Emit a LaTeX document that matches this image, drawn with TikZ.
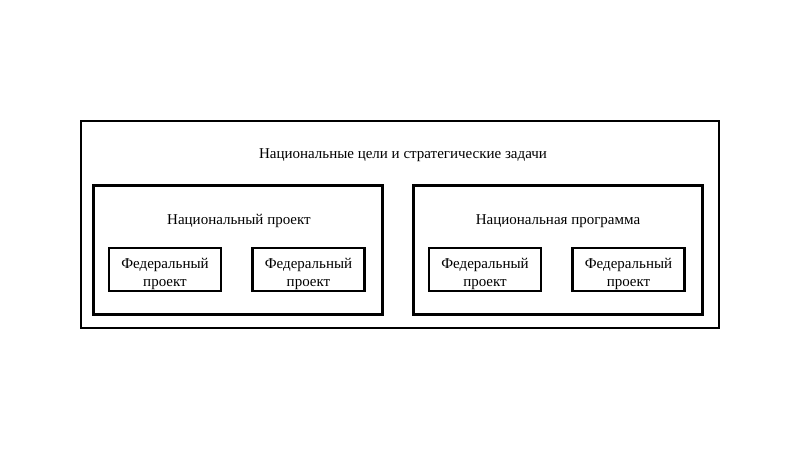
\documentclass[tikz,border=0pt]{standalone}
\usepackage{fontspec}
\setmainfont{Liberation Serif}
\usetikzlibrary{positioning}

\begin{document}
\begin{tikzpicture}[x=1pt,y=-1pt,outer sep=0pt,
frameb/.style={
  draw=black,
  line width=2pt,
  inner sep=0pt},
natb/.style={frameb,line width=3pt,minimum width=289pt,minimum height=128pt},
fedb/.style={
  frameb,
  line width=2.6pt,
  minimum width=112pt,
  minimum height=43pt,
  align=center,
  font={\fontsize{15}{18}\selectfont}},
capt/.style={font={\fontsize{15}{18}\selectfont}},
]
\useasboundingbox (0,0) rectangle (800,449);
% outer frame
\node[frameb,minimum width=638pt,minimum height=207pt] (goals) at (400,224.5) {};
\node[capt] (goalst) at (403,155) {Национальные цели и стратегические задачи};
% national project
\node[natb] (proj) at (237.5,250) {};
\node[capt] (projt) at (239,221) {Национальный проект};
\node[fedb] (fed1) at (165,269.5) {\rule{0pt}{20pt}Федеральный\\проект};
\node[fedb] (fed2) at (308.5,269.5) {\rule{0pt}{20pt}Федеральный\\проект};
% national programme
\node[natb] (prog) at (557.5,250) {};
\node[capt] (progt) at (558,221) {Национальная программа};
\node[fedb] (fed3) at (485,269.5) {\rule{0pt}{20pt}Федеральный\\проект};
\node[fedb] (fed4) at (628.5,269.5) {\rule{0pt}{20pt}Федеральный\\проект};
\end{tikzpicture}
\end{document}
